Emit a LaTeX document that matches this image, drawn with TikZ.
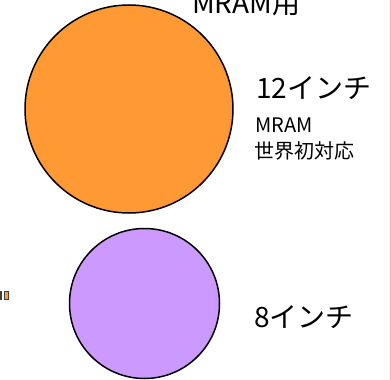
\documentclass[tikz,border=0pt]{standalone}
\usepackage{fontspec}
\setmainfont{Noto Sans CJK JP}
\usetikzlibrary{positioning}

\definecolor{waferorange}{RGB}{255,153,51}
\definecolor{waferpurple}{RGB}{204,153,255}
\definecolor{edgepink}{RGB}{255,170,170}

\tikzset{
    wafer/.style={circle, draw=black, line width=1.5pt, inner sep=0pt},
    bigtext/.style={font=\fontsize{28}{31}\selectfont, inner sep=0pt, anchor=base west},
    smalltext/.style={font=\fontsize{20}{23}\selectfont, inner sep=0pt, anchor=base west}
}

\begin{document}
\begin{tikzpicture}[x=1pt, y=-1pt]
    \useasboundingbox (0,0) rectangle (391,380);

    % wafers
    \node[wafer, fill=waferorange, minimum size=208pt] (wafer12) at (129,109) {};
    \node[wafer, fill=waferpurple, minimum size=150pt] (wafer8) at (144.5,303.5) {};

    % labels
    \node[bigtext] (mramtop) at (192,13) {MRAM用};
    \node[bigtext] (inch12) at (256,98) {12インチ};
    \node[smalltext] (mram) at (255,132) {MRAM};
    \node[smalltext] (first) at (254,158) {世界初対応};
    \node[bigtext] (inch8) at (254,327) {8インチ};

    % cut-off mark at the left edge
    \fill[black!75] (0,291) rectangle (2,300);
    \filldraw[fill=waferorange, draw=black!75] (4.5,291.5) rectangle (8.5,299.5);

    % page edge
    \draw[edgepink, line width=1pt] (390.5,0) -- (390.5,380);
\end{tikzpicture}
\end{document}
